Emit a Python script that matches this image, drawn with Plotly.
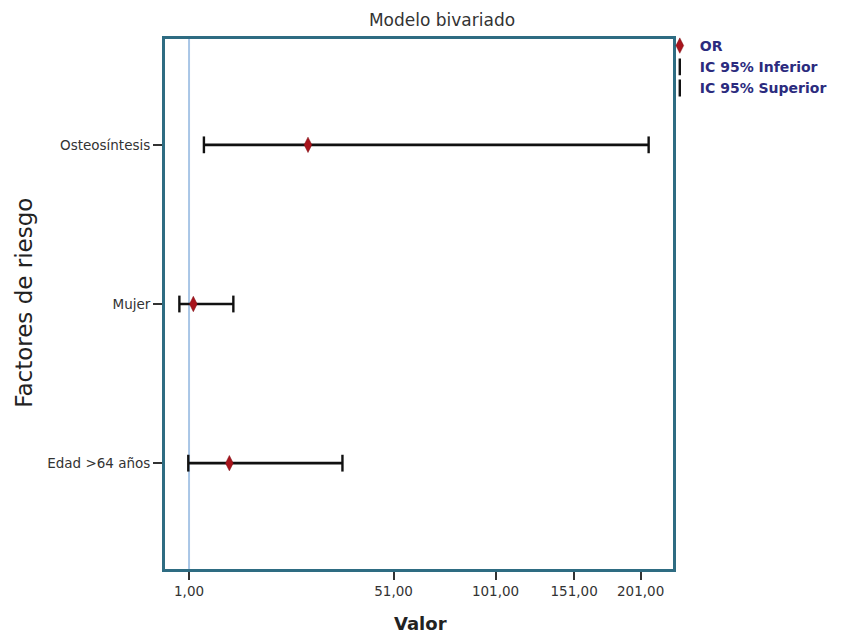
import numpy as np
import plotly.graph_objects as go

# ---- data ----
factors = ["Osteosíntesis", "Mujer", "Edad >64 años"]
or_values = [21.9, 1.36, 5.54]
ci_lower = [2.37, 0.30, 0.94]
ci_upper = [207.5, 6.13, 32.2]
tick_values = [1, 51, 101, 151, 201]
tick_labels = ["1,00", "51,00", "101,00", "151,00", "201,00"]
reference_value = 1
category_order = ["Edad >64 años", "Mujer", "Osteosíntesis"]


def scale(v):
    """Square-root (power 0.5) axis transform as used in the original chart."""
    return np.sqrt(np.asarray(v, dtype=float) + 1.0)


t_or = scale(or_values)
t_lo = scale(ci_lower)
t_hi = scale(ci_upper)

FONT = "DejaVu Sans"
TEAL = "#2e6c82"
BLACK = "#111111"

fig = go.Figure()

# horizontal CI lines
seg_x, seg_y = [], []
for f, lo, hi in zip(factors, t_lo, t_hi):
    seg_x += [lo, hi, None]
    seg_y += [f, f, None]
fig.add_trace(go.Scatter(x=seg_x, y=seg_y, mode="lines",
                         line=dict(color=BLACK, width=2.6),
                         showlegend=False, hoverinfo="skip"))

cap_style = dict(mode="markers",
                 marker=dict(symbol="line-ns", size=12,
                             line=dict(color=BLACK, width=2.4), color=BLACK),
                 error_y=dict(type="constant", value=0.036, width=4,
                              thickness=2, color=BLACK))

fig.add_trace(go.Scatter(x=t_lo, y=factors, name="IC 95% Inferior",
                         legendrank=2, **cap_style))
fig.add_trace(go.Scatter(x=t_hi, y=factors, name="IC 95% Superior",
                         legendrank=3, **cap_style))
fig.add_trace(go.Scatter(x=t_or, y=factors, mode="markers", name="OR",
                         legendrank=1,
                         marker=dict(symbol="diamond-tall", size=11,
                                     color="#a8141c",
                                     line=dict(color="#7a0a10", width=0.5))))

# reference line at value 1
ref_t = float(scale(reference_value))
fig.add_shape(type="line", xref="x", yref="paper", x0=ref_t, x1=ref_t, y0=0, y1=1,
              line=dict(color="#a9c6e6", width=2), layer="below")

fig.add_annotation(text="Factores de riesgo", textangle=-90, showarrow=False,
                   xref="paper", yref="paper", x=-0.278, y=0.502,
                   xanchor="center", yanchor="middle",
                   font=dict(family=FONT, size=23, color="#222222"))
fig.add_annotation(text="<b>Valor</b>", showarrow=False,
                   xref="paper", yref="paper", x=0.5025, y=-0.102,
                   xanchor="center", yanchor="middle",
                   font=dict(family=FONT, size=18, color="#222222"))

fig.update_layout(
    width=851, height=627,
    margin=dict(l=157, r=186, t=31, b=66),
    paper_bgcolor="white", plot_bgcolor="white",
    font=dict(family=FONT, size=12, color="#333333"),
    title=dict(text="Modelo bivariado", x=0.51, xanchor="center",
               y=0.981, yanchor="middle", yref="container",
               font=dict(family=FONT, size=17, color="#333333")),
    showlegend=True,
    legend=dict(x=0.974, xanchor="left", y=1.017, yanchor="top",
                bgcolor="rgba(0,0,0,0)", borderwidth=0, traceorder="normal",
                itemwidth=30,
                font=dict(family=FONT, size=14, color="#2b2b7e", weight="bold")),
    xaxis=dict(range=[0.733, 15.13], tickmode="array",
               tickvals=scale(tick_values).tolist(), ticktext=tick_labels,
               ticks="outside", ticklen=8, tickwidth=1.5, tickcolor="#333333",
               showgrid=False, zeroline=False,
               showline=True, mirror=True, linecolor=TEAL, linewidth=3,
               tickfont=dict(family=FONT, size=13.5, color="#333333")),
    yaxis=dict(type="category", categoryorder="array", categoryarray=category_order,
               range=[-0.665, 2.665],
               ticks="outside", ticklen=9, tickwidth=1.5, tickcolor="#333333",
               showgrid=False, zeroline=False,
               showline=True, mirror=True, linecolor=TEAL, linewidth=3,
               tickfont=dict(family=FONT, size=13.5, color="#333333")),
)

fig.write_html("out.html")
